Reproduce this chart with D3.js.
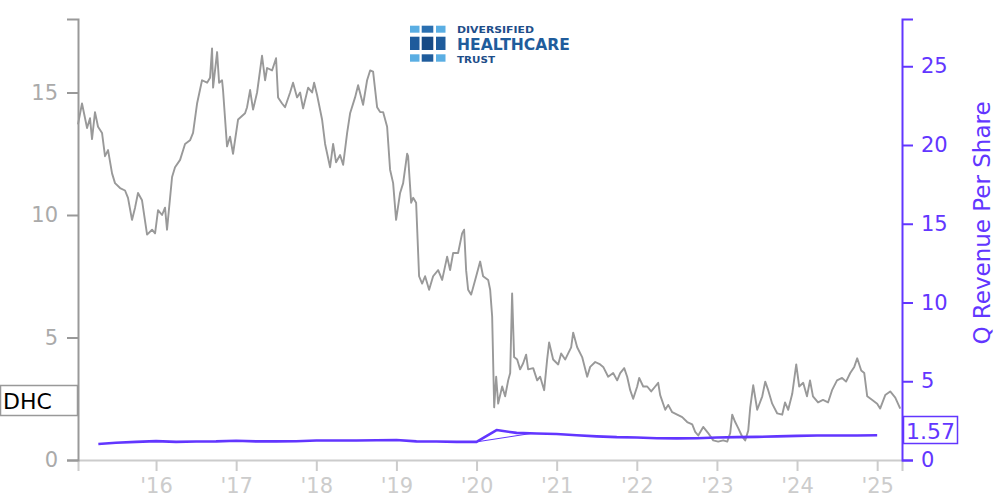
<!DOCTYPE html>
<html><head><meta charset="utf-8">
<script src="https://cdn.jsdelivr.net/npm/d3@7"></script>
<style>
html,body{margin:0;padding:0;background:#fff;}
text{font-family:"DejaVu Sans",sans-serif;}
</style></head>
<body><svg id="c" width="1000" height="500"></svg>
<script>
// ---- data (decimal years) ----
const priceYears = [2015.026,2015.076,2015.139,2015.176,2015.201,2015.238,2015.276,2015.326,2015.363,2015.401,2015.451,2015.488,2015.551,2015.613,2015.650,2015.700,2015.738,2015.775,2015.825,2015.888,2015.950,2015.988,2016.025,2016.075,2016.112,2016.137,2016.200,2016.237,2016.300,2016.362,2016.424,2016.462,2016.512,2016.574,2016.637,2016.674,2016.699,2016.712,2016.762,2016.787,2016.824,2016.836,2016.886,2016.924,2016.961,2017.024,2017.111,2017.136,2017.174,2017.211,2017.261,2017.323,2017.361,2017.386,2017.448,2017.498,2017.523,2017.573,2017.610,2017.673,2017.710,2017.760,2017.798,2017.835,2017.898,2017.948,2017.973,2018.010,2018.072,2018.110,2018.172,2018.210,2018.247,2018.297,2018.335,2018.385,2018.422,2018.484,2018.522,2018.584,2018.634,2018.672,2018.709,2018.759,2018.797,2018.834,2018.884,2018.921,2018.959,2018.996,2019.046,2019.084,2019.134,2019.146,2019.184,2019.209,2019.246,2019.283,2019.321,2019.358,2019.408,2019.458,2019.521,2019.571,2019.633,2019.670,2019.708,2019.770,2019.820,2019.845,2019.870,2019.895,2019.933,2019.983,2020.045,2020.082,2020.145,2020.170,2020.195,2020.220,2020.245,2020.270,2020.320,2020.357,2020.395,2020.420,2020.444,2020.469,2020.507,2020.544,2020.582,2020.619,2020.644,2020.707,2020.757,2020.794,2020.844,2020.881,2020.906,2020.956,2021.019,2021.056,2021.106,2021.144,2021.181,2021.206,2021.256,2021.318,2021.381,2021.418,2021.481,2021.543,2021.581,2021.643,2021.705,2021.755,2021.793,2021.843,2021.880,2021.918,2021.955,2022.005,2022.030,2022.080,2022.130,2022.180,2022.230,2022.267,2022.292,2022.355,2022.392,2022.442,2022.504,2022.567,2022.629,2022.692,2022.729,2022.767,2022.829,2022.891,2022.954,2023.016,2023.079,2023.129,2023.166,2023.191,2023.228,2023.266,2023.316,2023.353,2023.391,2023.416,2023.453,2023.503,2023.566,2023.603,2023.640,2023.690,2023.753,2023.815,2023.850,2023.890,2023.940,2023.990,2024.027,2024.077,2024.124,2024.162,2024.199,2024.262,2024.324,2024.387,2024.437,2024.499,2024.562,2024.612,2024.664,2024.714,2024.751,2024.801,2024.839,2024.876,2024.939,2025.000,2025.037,2025.101,2025.163,2025.226,2025.288];
const priceValues = [13.7,14.55,13.55,13.95,13.1,14.2,13.6,13.35,12.4,12.65,11.7,11.3,11.1,11.0,10.7,9.8,10.3,10.9,10.6,9.2,9.4,9.25,10.2,10.0,10.3,9.4,11.55,11.95,12.25,12.9,13.05,13.35,14.55,15.5,15.4,15.6,16.8,15.2,16.65,15.4,15.5,15.1,12.8,13.2,12.5,13.9,14.15,14.4,15.1,14.3,15.0,16.5,15.5,16.0,15.9,16.4,14.8,14.55,14.4,15.0,15.4,14.8,15.0,14.35,15.2,15.0,15.4,14.9,13.9,12.9,11.95,12.9,12.15,12.45,12.05,13.35,14.15,14.8,15.3,14.5,15.5,15.9,15.85,14.4,14.2,14.2,13.6,11.85,11.3,9.8,10.9,11.3,12.5,12.4,10.5,10.7,10.5,7.5,7.2,7.5,6.95,7.5,7.75,7.35,8.3,7.75,8.45,8.45,9.25,9.4,7.75,6.95,6.75,7.35,8.1,7.5,7.35,6.95,5.85,2.15,3.4,2.3,3.0,2.6,3.25,3.55,6.8,4.2,4.1,3.7,3.95,4.3,3.7,3.75,3.25,3.4,2.85,4.1,4.8,4.1,3.9,4.35,4.1,4.35,4.6,5.2,4.6,4.2,3.4,3.8,4.0,3.9,3.8,3.4,3.55,3.25,3.55,3.75,3.4,2.85,2.5,3.0,3.35,3.0,3.0,2.8,3.0,3.15,2.65,2.05,2.25,1.95,1.85,1.75,1.55,1.45,1.15,1.0,1.35,1.1,0.8,0.75,0.8,0.75,1.1,1.85,1.55,1.3,0.95,0.8,1.2,2.15,3.05,2.05,2.6,3.2,2.85,2.3,1.9,1.85,2.35,2.05,2.7,3.9,3.0,3.15,2.6,3.25,2.6,2.35,2.45,2.35,2.85,3.25,3.35,3.2,3.55,3.8,4.15,3.65,3.55,2.6,2.45,2.3,2.1,2.65,2.8,2.55,2.1];

const revYears = [2015.28,2015.5,2015.75,2016.0,2016.25,2016.5,2016.75,2017.0,2017.25,2017.5,2017.75,2018.0,2018.25,2018.5,2018.75,2019.0,2019.25,2019.5,2019.75,2020.0,2020.25,2020.5,2020.75,2021.0,2021.25,2021.5,2021.75,2022.0,2022.25,2022.5,2022.75,2023.0,2023.25,2023.5,2023.75,2024.0,2024.25,2024.5,2024.75,2025.0];
const revValues = [1.02,1.1,1.15,1.2,1.15,1.17,1.18,1.22,1.18,1.18,1.19,1.24,1.24,1.24,1.25,1.27,1.18,1.17,1.15,1.15,1.9,1.72,1.68,1.65,1.57,1.5,1.45,1.43,1.38,1.37,1.38,1.43,1.45,1.47,1.5,1.53,1.56,1.56,1.56,1.57];
const revThinYears = [2020.0, 2020.7];
const revThinValues = [1.15, 1.7];

const leftTicks = [0,5,10,15];
const rightTicks = [0,5,10,15,20,25];
const xTicks = [2016,2017,2018,2019,2020,2021,2022,2023,2024,2025];
const xTickLabels = ["'16","'17","'18","'19","'20","'21","'22","'23","'24","'25"];
const tickerLabel = "DHC";
const lastRevLabel = "1.57";
const rightTitle = "Q Revenue Per Share";
const logoLines = ["DIVERSIFIED","HEALTHCARE","TRUST"];

// ---- drawing ----
const PURPLE = "#6236ff";
const svg = d3.select("#c");
const x = d3.scaleLinear().domain([2015.026, 2025.31]).range([78, 902]);
const yL = d3.scaleLinear().domain([0, 18]).range([460, 19]);
const yR = d3.scaleLinear().domain([0, 28]).range([460, 19]);

const price = priceYears.map((t,i)=>[t, priceValues[i]]);
const rev = revYears.map((t,i)=>[t, revValues[i]]);
const revThin = revThinYears.map((t,i)=>[t, revThinValues[i]]);

svg.append("path").datum(price)
  .attr("fill","none").attr("stroke","#999").attr("stroke-width",1.9).attr("stroke-linejoin","round")
  .attr("d", d3.line().x(d=>x(d[0])).y(d=>yL(d[1])));

svg.append("path").datum(revThin)
  .attr("fill","none").attr("stroke",PURPLE).attr("stroke-width",1)
  .attr("d", d3.line().x(d=>x(d[0])).y(d=>yR(d[1])));
svg.append("path").datum(rev)
  .attr("fill","none").attr("stroke",PURPLE).attr("stroke-width",2.6).attr("stroke-linejoin","round")
  .attr("d", d3.line().x(d=>x(d[0])).y(d=>yR(d[1])));

// x axis
const gx = svg.append("g").attr("transform","translate(0,460)")
  .call(d3.axisBottom(x).tickValues(xTicks).tickFormat((d,i)=>xTickLabels[i]).tickSize(11).tickPadding(7));
gx.select(".domain").attr("stroke","#ccc").attr("stroke-width",2);
gx.selectAll(".tick line").attr("stroke","#ccc").attr("stroke-width",2);
gx.selectAll(".tick text").attr("fill","#ccc").style("font-size","21px").style("font-family","DejaVu Sans");

// left axis
const gl = svg.append("g").attr("transform","translate(78,0)")
  .call(d3.axisLeft(yL).tickValues(leftTicks).tickSize(11).tickPadding(9));
gl.select(".domain").attr("stroke","#999").attr("stroke-width",2);
gl.selectAll(".tick line").attr("stroke","#999").attr("stroke-width",2);
gl.selectAll(".tick text").attr("fill","#aaa").style("font-size","21px").style("font-family","DejaVu Sans");

// right axis
const gr = svg.append("g").attr("transform","translate(902,0)")
  .call(d3.axisRight(yR).tickValues(rightTicks).tickSize(11).tickPadding(8));
gr.select(".domain").attr("stroke",PURPLE).attr("stroke-width",2);
gr.selectAll(".tick line").attr("stroke",PURPLE).attr("stroke-width",2);
gr.selectAll(".tick text").attr("fill",PURPLE).style("font-size","21px").style("font-family","DejaVu Sans");

svg.append("text").attr("transform","translate(990,223) rotate(-90)")
  .attr("text-anchor","middle").attr("fill",PURPLE).style("font-size","23px").text(rightTitle);

// ticker box
svg.append("rect").attr("x",0.5).attr("y",385.5).attr("width",77).attr("height",30)
  .attr("fill","#fff").attr("stroke","#999").attr("stroke-width",1.5);
svg.append("text").attr("x",3).attr("y",409).attr("fill","#000").style("font-size","22px").text(tickerLabel);

// last revenue box
svg.append("rect").attr("x",903.5).attr("y",416.5).attr("width",54).attr("height",27)
  .attr("fill","#fff").attr("stroke",PURPLE).attr("stroke-width",1.5);
svg.append("text").attr("x",906).attr("y",439).attr("fill",PURPLE).style("font-size","22px").text(lastRevLabel);

// logo
const logo = svg.append("g");
const cols = [[410,9.5],[421.7,11.6],[436,9.5]];
const rows = [[25.7,7],[36.7,13.3],[54.3,7.4]];
const colorsGrid = [["#5aaee3","#2a6fb0","#5aaee3"],["#1f5c9c","#174a85","#1f5c9c"],["#5aaee3","#1f5c9c","#5aaee3"]];
rows.forEach((r,ri)=>cols.forEach((c,ci)=>{
  logo.append("rect").attr("x",c[0]).attr("y",r[0]).attr("width",c[1]).attr("height",r[1]).attr("fill",colorsGrid[ri][ci]);
}));
logo.append("text").attr("x",457).attr("y",33.3).attr("fill","#1d4e89").style("font-size","9.5px").style("font-weight","bold")
  .attr("textLength",77).attr("lengthAdjust","spacingAndGlyphs").text(logoLines[0]);
logo.append("text").attr("x",457).attr("y",50).attr("fill","#1f5c9c").style("font-size","15.5px").style("font-weight","bold")
  .attr("textLength",113).attr("lengthAdjust","spacingAndGlyphs").text(logoLines[1]);
logo.append("text").attr("x",457).attr("y",62.6).attr("fill","#1d4e89").style("font-size","9.5px").style("font-weight","bold")
  .attr("textLength",38).attr("lengthAdjust","spacingAndGlyphs").text(logoLines[2]);
</script></body></html>
